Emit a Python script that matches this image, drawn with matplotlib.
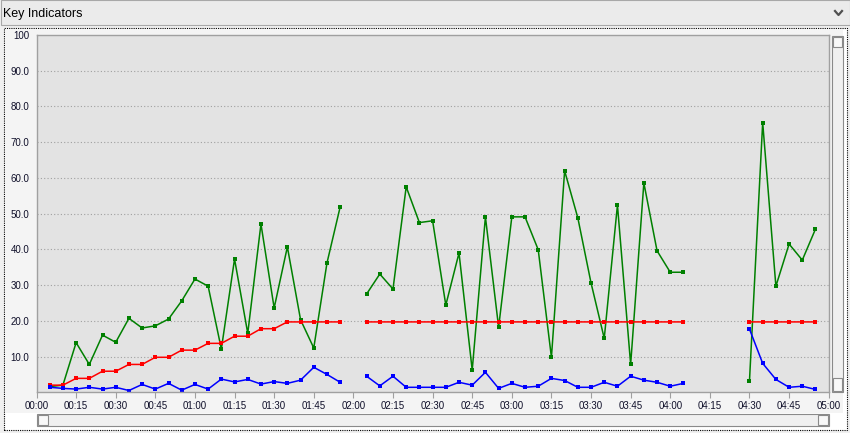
import numpy as np
import matplotlib.pyplot as plt
from matplotlib.patches import Rectangle
from matplotlib.lines import Line2D

plt.rcParams['font.family'] = ['Liberation Sans', 'DejaVu Sans']

# minutes since 00:00, one sample every 5 minutes
minutos = np.arange(5, 300, 5)
nan = np.nan

verde = [1.6, 2.0, 13.9, 7.8, 16.0, 14.0, 20.7, 18.0, 18.6, 20.5,
         25.6, 31.7, 29.7, 12.1, 37.3, 16.5, 47.1, 23.6, 40.7, 20.3,
         12.4, 36.2, 51.9, nan, 27.5, 33.1, 28.9, 57.5, 47.5, 48.0,
         24.4, 39.0, 6.2, 49.1, 18.2, 49.1, 49.1, 39.9, 9.8, 62.0,
         48.8, 30.6, 15.1, 52.4, 7.8, 58.6, 39.6, 33.6, 33.6, nan,
         nan, nan, nan, 3.2, 75.5, 29.7, 41.5, 37.0, 45.7]

rojo = [2.0, 2.0, 3.9, 3.9, 5.9, 5.9, 7.8, 7.8, 9.8, 9.8,
        11.8, 11.8, 13.7, 13.7, 15.7, 15.7, 17.8, 17.8, 19.7, 19.7,
        19.7, 19.7, 19.7, nan, 19.7, 19.7, 19.7, 19.7, 19.7, 19.7,
        19.7, 19.7, 19.7, 19.7, 19.7, 19.7, 19.7, 19.7, 19.7, 19.7,
        19.7, 19.7, 19.7, 19.7, 19.7, 19.7, 19.7, 19.7, 19.7, nan,
        nan, nan, nan, 19.7, 19.7, 19.7, 19.7, 19.7, 19.7]

azul = [1.4, 1.1, 0.9, 1.4, 0.9, 1.4, 0.5, 2.2, 0.9, 2.5,
        0.6, 2.2, 0.9, 3.7, 2.9, 3.6, 2.3, 3.0, 2.5, 3.4,
        7.0, 5.0, 2.8, nan, 4.5, 1.8, 4.5, 1.4, 1.4, 1.4,
        1.4, 2.8, 2.0, 5.6, 1.1, 2.5, 1.4, 1.7, 3.9, 3.3,
        1.4, 1.4, 2.8, 1.7, 4.5, 3.4, 2.8, 1.7, 2.5, nan,
        nan, nan, nan, 17.7, 8.1, 3.6, 1.4, 1.7, 0.8]

ticks_x = list(range(0, 301, 15))
etiquetas_x = ["%02d:%02d" % (m // 60, m % 60) for m in ticks_x]
ticks_y = [10, 20, 30, 40, 50, 60, 70, 80, 90, 100]
etiquetas_y = ["10.0", "20.0", "30.0", "40.0", "50.0", "60.0", "70.0", "80.0", "90.0", "100"]

W, H = 850, 433
fig = plt.figure(figsize=(W / 100, H / 100), dpi=100)
fig.patch.set_facecolor("#f0f0f0")


def caja(x0, y0, x1, y1, **kw):
    # rectangle in pixel coords (origin top-left)
    r = Rectangle((x0 / W, 1 - y1 / H), (x1 - x0) / W, (y1 - y0) / H,
                  transform=fig.transFigure, **kw)
    fig.patches.append(r)
    return r


# title bar
caja(0.5, 0.5, 849.5, 25, facecolor="#ebebeb", edgecolor="#a8a8a8", lw=0.8, zorder=-3)
fig.text(3 / W, 1 - 13.5 / H, "Key Indicators", fontsize=9, va="center", ha="left", color="#000000")
fig.lines.append(Line2D([835 / W, 838.5 / W, 842 / W], [1 - 11 / H, 1 - 15 / H, 1 - 11 / H],
                        transform=fig.transFigure, color="#505050", lw=1.6))

# chart panel
caja(4, 27.5, 847, 430, facecolor="white", edgecolor="black", lw=0.8, ls=(0, (1, 1)), zorder=-3)
caja(5, 28.5, 843, 413, facecolor="#f4f4f4", edgecolor="none", zorder=-2)

# plot area
ax = fig.add_axes([36.5 / W, 1 - 392.3 / H, (828.7 - 36.5) / W, (392.3 - 35) / H])
ax.set_facecolor("#e3e3e3")
for s in ax.spines.values():
    s.set_color("#a0a0a0")
    s.set_linewidth(1.0)

ax.plot(minutos, verde, color="#008000", lw=1.1, marker="s", ms=3.3, mew=0)
ax.plot(minutos, rojo, color="#ff0000", lw=1.1, marker="s", ms=3.3, mew=0)
ax.plot(minutos, azul, color="#0000ff", lw=1.1, marker="s", ms=3.3, mew=0)

ax.set_xlim(0, 300)
ax.set_ylim(0, 100)
ax.set_xticks(ticks_x)
ax.set_xticklabels(etiquetas_x, fontsize=7)
ax.set_yticks(ticks_y)
ax.set_yticklabels(etiquetas_y, fontsize=7)
ax.tick_params(axis="x", length=4, width=0.8, color="#a0a0a0", pad=2, labelcolor="#10102a")
ax.tick_params(axis="y", length=0, pad=5, labelcolor="#10102a")
for yv in ticks_y[:-1]:
    ax.axhline(yv, color="#a0a0a0", lw=0.8, ls=(0, (1, 2)), zorder=0.5)

# scrollbars
caja(831.5, 36, 842.5, 392, facecolor="#f0f0f0", edgecolor="#8a8a8a", lw=0.8, zorder=1)
caja(832.5, 37, 841.5, 47, facecolor="#f8f8f8", edgecolor="#8a8a8a", lw=0.8, zorder=1)
caja(832.5, 378, 841.5, 391, facecolor="#f8f8f8", edgecolor="#8a8a8a", lw=0.8, zorder=1)
caja(36.5, 414, 829, 425.5, facecolor="#f0f0f0", edgecolor="#8a8a8a", lw=0.8, zorder=1)
caja(37.5, 415, 48, 424.5, facecolor="#f8f8f8", edgecolor="#8a8a8a", lw=0.8, zorder=1)
caja(818, 415, 828, 424.5, facecolor="#f8f8f8", edgecolor="#8a8a8a", lw=0.8, zorder=1)

fig.savefig("out.png", dpi=100)
